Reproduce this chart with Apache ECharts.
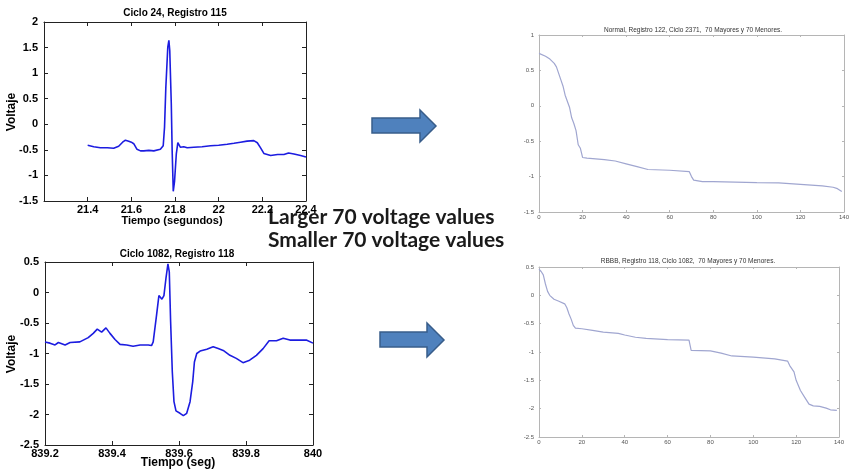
<!DOCTYPE html>
<html><head><meta charset="utf-8">
<script src="https://cdn.jsdelivr.net/npm/echarts@6/dist/echarts.min.js"></script>
<style>html,body{margin:0;padding:0;background:#fff}#c{width:852px;height:473px}</style>
</head><body><div id="c"></div>
<script>
// ---- data ----
const tlSignal = [[21.400,-0.41],[21.428,-0.44],[21.458,-0.46],[21.490,-0.46],[21.519,-0.47],[21.542,-0.43],[21.560,-0.35],[21.573,-0.31],[21.588,-0.33],[21.600,-0.35],[21.611,-0.38],[21.626,-0.49],[21.642,-0.52],[21.657,-0.52],[21.680,-0.51],[21.703,-0.52],[21.733,-0.49],[21.746,-0.42],[21.752,-0.06],[21.758,0.72],[21.767,1.51],[21.772,1.64],[21.776,1.44],[21.783,0.40],[21.787,-0.52],[21.792,-1.31],[21.798,-1.11],[21.806,-0.58],[21.813,-0.36],[21.825,-0.45],[21.840,-0.44],[21.856,-0.46],[21.886,-0.45],[21.924,-0.44],[21.963,-0.42],[22.000,-0.41],[22.039,-0.39],[22.070,-0.37],[22.100,-0.35],[22.130,-0.33],[22.161,-0.32],[22.177,-0.36],[22.192,-0.46],[22.207,-0.57],[22.238,-0.61],[22.270,-0.59],[22.299,-0.59],[22.320,-0.56],[22.345,-0.58],[22.375,-0.61],[22.400,-0.64]];
const blSignal = [[839.200,-0.81],[839.215,-0.83],[839.230,-0.86],[839.240,-0.82],[839.260,-0.86],[839.275,-0.82],[839.304,-0.81],[839.329,-0.74],[839.344,-0.67],[839.356,-0.60],[839.369,-0.65],[839.382,-0.58],[839.394,-0.67],[839.409,-0.77],[839.424,-0.85],[839.444,-0.86],[839.463,-0.88],[839.484,-0.86],[839.508,-0.86],[839.518,-0.87],[839.523,-0.81],[839.533,-0.37],[839.540,-0.05],[839.545,-0.03],[839.549,-0.11],[839.555,-0.05],[839.561,0.23],[839.567,0.47],[839.571,0.34],[839.575,-0.48],[839.580,-1.30],[839.585,-1.79],[839.591,-1.94],[839.603,-1.98],[839.613,-2.02],[839.623,-1.98],[839.633,-1.79],[839.641,-1.46],[839.646,-1.14],[839.653,-1.00],[839.663,-0.96],[839.683,-0.93],[839.702,-0.89],[839.717,-0.92],[839.732,-0.95],[839.752,-1.03],[839.771,-1.08],[839.791,-1.15],[839.811,-1.11],[839.831,-1.03],[839.851,-0.92],[839.869,-0.79],[839.891,-0.79],[839.911,-0.75],[839.931,-0.78],[839.960,-0.78],[839.980,-0.78],[840.000,-0.83]];
const trSorted = [[0,0.74],[3,0.70],[5,0.66],[7,0.60],[8,0.55],[10,0.37],[11,0.28],[12,0.15],[14,-0.02],[15,-0.17],[16,-0.25],[17,-0.35],[18,-0.55],[19,-0.60],[20,-0.73],[22,-0.74],[30,-0.76],[35,-0.78],[40,-0.82],[45,-0.86],[50,-0.90],[60,-0.91],[69,-0.93],[70,-1.00],[71,-1.05],[75,-1.07],[80,-1.07],[100,-1.085],[110,-1.09],[120,-1.11],[125,-1.12],[130,-1.13],[135,-1.15],[137,-1.17],[139,-1.21]];
const brSorted = [[0,0.46],[1,0.42],[2,0.36],[3,0.20],[4,0.07],[5,0.00],[7,-0.07],[9,-0.10],[12,-0.15],[13,-0.22],[14,-0.33],[15,-0.42],[16,-0.53],[17,-0.58],[20,-0.59],[25,-0.62],[30,-0.65],[37,-0.67],[40,-0.70],[45,-0.74],[50,-0.76],[60,-0.78],[70,-0.79],[71,-0.97],[80,-0.98],[85,-1.02],[90,-1.07],[100,-1.09],[110,-1.12],[116,-1.16],[117,-1.24],[119,-1.35],[120,-1.50],[122,-1.68],[124,-1.80],[126,-1.92],[128,-1.95],[131,-1.96],[134,-1.99],[136,-2.02],[139,-2.03]];

const titles = ['Ciclo 24, Registro 115','Ciclo 1082, Registro 118','Normal, Registro 122, Ciclo 2371,  70 Mayores y 70 Menores.','RBBB, Registro 118, Ciclo 1082,  70 Mayores y 70 Menores.'];
const xNames = ['Tiempo (segundos)','Tiempo (seg)'];
const yName = 'Voltaje';
const noteLines = ['Larger 70 voltage values','Smaller 70 voltage values'];

// ---- layout ----
const grids = [
  {left:44, top:22, width:262, height:179},
  {left:45, top:262, width:268, height:183},
  {left:539, top:35, width:308, height:177},
  {left:539, top:267, width:300, height:170}
];
const ranges = [
  {x:[21.2,22.4,0.2], y:[-1.5,2,0.5]},
  {x:[839.2,840,0.2], y:[-2.5,0.5,0.5]},
  {x:[0,140,20], y:[-1.5,1,0.5]},
  {x:[0,140,20], y:[-2.5,0.5,0.5]}
];
const leftStyle = {line:'#222', lw:1, tick:4, font:'bold 11px "Liberation Sans", Arial, sans-serif', color:'#000', xm:3, ym:6};
const rightStyle = {line:'#b5b5b5', lw:1, tick:2, font:'6px "Liberation Sans", Arial, sans-serif', color:'#555', xm:2, ym:5};

function fmt(v){ return String(parseFloat(v.toFixed(1))); }

const xAxis = [], yAxis = [];
ranges.forEach((r, i) => {
  const s = i < 2 ? leftStyle : rightStyle;
  const fs = parseFloat(s.font.match(/(\d+(\.\d+)?)px/)[1]);
  const base = (kind, pos, show) => ({
    type:'value', gridIndex:i, position:pos,
    min: kind==='x'? r.x[0] : r.y[0], max: kind==='x'? r.x[1] : r.y[1], interval: kind==='x'? r.x[2] : r.y[2],
    splitLine:{show:false},
    axisLine:{show:true, onZero:false, lineStyle:{color:s.line, width:s.lw}},
    axisTick:{show:true, inside:true, length:s.tick, lineStyle:{color:s.line}},
    axisLabel:{show:show, margin: kind==='x'? s.xm : s.ym, color:s.color, fontSize:fs,
      fontWeight: i<2 ? 'bold':'normal', fontFamily:'"Liberation Sans", Arial, sans-serif',
      showMinLabel:true, showMaxLabel:true,
      formatter: (v) => { if (i===0 && kind==='x' && v < 21.3) return ''; return fmt(v); }}
  });
  xAxis.push(base('x','bottom',true));
  xAxis.push(base('x','top',false));
  yAxis.push(base('y','left',true));
  yAxis.push(base('y','right',false));
});

const sigs = [tlSignal, blSignal, trSorted, brSorted];
const series = sigs.map((d, i) => ({
  type:'line', xAxisIndex:i*2, yAxisIndex:i*2, data:d, showSymbol:false, symbol:'none',
  lineStyle:{color: i<2 ? '#1c1ce0' : '#a0a6d0', width: i<2 ? 1.6 : 1.2},
  animation:false, silent:true
}));

function txt(x, y, text, font, opts={}) {
  return Object.assign({type:'text', x:x, y:y, silent:true,
    style:Object.assign({text:text, font:font, fill:'#000', textAlign:'center', textVerticalAlign:'middle'}, opts.style||{})}, opts.el||{});
}
const bold = (px) => 'bold ' + px + 'px "Liberation Sans", Arial, sans-serif';
function arrow(x0, x1, xt, yb0, yb1, yh0, yh1) {
  const ym = (yh0 + yh1) / 2;
  return {type:'polygon', silent:true,
    shape:{points:[[x0,yb0],[x1,yb0],[x1,yh0],[xt,ym],[x1,yh1],[x1,yb1],[x0,yb1]]},
    style:{fill:'#4f81bd', stroke:'#385d8a', lineWidth:1.5}};
}

const graphic = [
  txt(175, 13, titles[0], bold(10)),
  txt(177, 254, titles[1], bold(10)),
  txt(693, 30, titles[2], '6.5px "Liberation Sans", Arial, sans-serif', {style:{fill:'#333'}}),
  txt(688, 261, titles[3], '6.5px "Liberation Sans", Arial, sans-serif', {style:{fill:'#333'}}),
  txt(172, 221, xNames[0], bold(11)),
  txt(178, 463, xNames[1], bold(12)),
  txt(12, 112, yName, bold(12), {el:{rotation:Math.PI/2}}),
  txt(12, 354, yName, bold(12), {el:{rotation:Math.PI/2}}),
  txt(268, 217, noteLines[0], 'bold 21px Lato, "Open Sans", sans-serif', {style:{textAlign:'left', fill:'#1a1a1a'}}),
  txt(268, 240, noteLines[1], 'bold 21px Lato, "Open Sans", sans-serif', {style:{textAlign:'left', fill:'#1a1a1a'}}),
  arrow(372, 420, 436, 118, 133, 110, 142),
  arrow(380, 427, 444, 332, 347, 323, 357)
];

const chart = echarts.init(document.getElementById('c'), null, {renderer:'canvas'});
chart.setOption({
  animation:false,
  backgroundColor:'#fff',
  grid: grids.map(g => Object.assign({containLabel:false, show:false}, g)),
  xAxis, yAxis, series, graphic
});
</script></body></html>
